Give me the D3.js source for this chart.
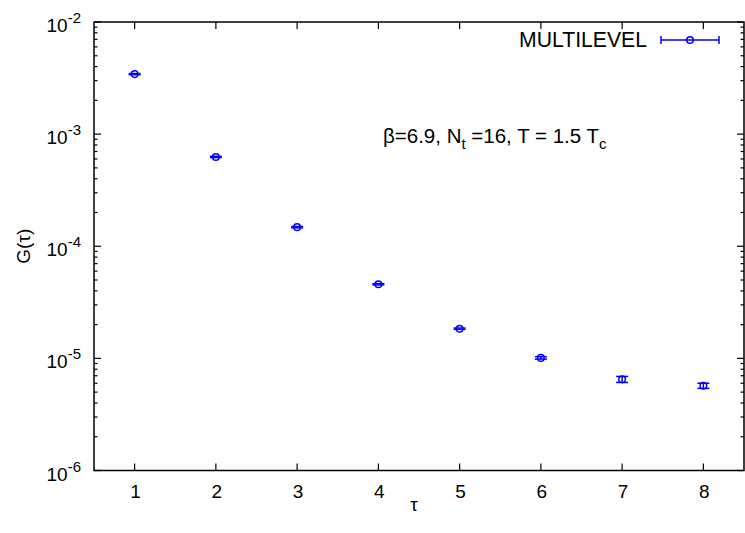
<!DOCTYPE html>
<html><head><meta charset="utf-8">
<script src="https://cdn.jsdelivr.net/npm/d3@7"></script>
<style>body{margin:0;background:#fff}text{font-family:"Liberation Sans",Arial,sans-serif}</style>
</head><body>
<svg id="c" width="745" height="533"></svg>
<script>
const tau = [1,2,3,4,5,6,7,8];
const G = [3.43e-3, 6.26e-4, 1.48e-4, 4.58e-5, 1.84e-5, 1.01e-5, 6.5e-6, 5.7e-6];
const Gerr = [4e-5, 8e-6, 2e-6, 6e-7, 2.5e-7, 2.5e-7, 4e-7, 3e-7];
const xTicks = [1,2,3,4,5,6,7,8];
const yExps = [-2,-3,-4,-5,-6];
const seriesName = "MULTILEVEL";

const svg = d3.select("#c");
const L=94, R=744, T=22, B=470.5;
const x = d3.scaleLinear().domain([0.5,8.5]).range([L,R]);
const y = d3.scaleLog().domain([1e-6,1e-2]).range([B,T]);
const blue = "#0000ff";

// ticks
const g = svg.append("g").attr("stroke","#000").attr("stroke-width",1.2);
xTicks.forEach(t=>{
  g.append("line").attr("x1",x(t)).attr("x2",x(t)).attr("y1",B).attr("y2",B-7);
  g.append("line").attr("x1",x(t)).attr("x2",x(t)).attr("y1",T).attr("y2",T+7);
});
for(let e=-6;e<=-2;e++){
  const v=Math.pow(10,e);
  g.append("line").attr("x1",L).attr("x2",L+7).attr("y1",y(v)).attr("y2",y(v));
  g.append("line").attr("x1",R).attr("x2",R-7).attr("y1",y(v)).attr("y2",y(v));
  if(e<-2) for(let m=2;m<=9;m++){
    const yy=y(m*v);
    g.append("line").attr("x1",L).attr("x2",L+3.5).attr("y1",yy).attr("y2",yy);
    g.append("line").attr("x1",R).attr("x2",R-3.5).attr("y1",yy).attr("y2",yy);
  }
}
svg.append("rect").attr("x",L).attr("y",T).attr("width",R-L).attr("height",B-T)
  .attr("fill","none").attr("stroke","#000").attr("stroke-width",1.5);

// tick labels
xTicks.forEach(t=>{
  svg.append("text").attr("x",x(t)+1).attr("y",498).attr("text-anchor","middle")
    .attr("font-size",19).text(t);
});
yExps.forEach(e=>{
  const t=svg.append("text").attr("x",81).attr("y",y(Math.pow(10,e))+10).attr("text-anchor","end").attr("font-size",19);
  t.append("tspan").text("10");
  t.append("tspan").attr("dy",-9).attr("font-size",15).text(e);
});
// axis titles
svg.append("text").attr("x",x(4.5)-5).attr("y",511).attr("text-anchor","middle").attr("font-size",19).text("τ");
svg.append("text").attr("transform","translate(30,"+((T+B)/2)+") rotate(-90)").attr("text-anchor","middle").attr("font-size",19).text("G(τ)");

// annotation
const a = svg.append("text").attr("x",383).attr("y",143).attr("font-size",20.5);
a.append("tspan").text("β=6.9, N");
a.append("tspan").attr("dy",6).attr("font-size",15).text("t");
a.append("tspan").attr("dy",-6).text(" =16, T = 1.5 T");
a.append("tspan").attr("dy",6).attr("font-size",15).text("c");

// data
const d = svg.append("g").attr("stroke",blue).attr("stroke-width",1.5).attr("fill","none");
tau.forEach((t,i)=>{
  const cx=x(t), lo=y(G[i]-Gerr[i]), hi=y(G[i]+Gerr[i]), cy=y(G[i]);
  d.append("line").attr("x1",cx).attr("x2",cx).attr("y1",lo).attr("y2",hi);
  d.append("line").attr("x1",cx-6).attr("x2",cx+6).attr("y1",lo).attr("y2",lo);
  d.append("line").attr("x1",cx-6).attr("x2",cx+6).attr("y1",hi).attr("y2",hi);
  d.append("circle").attr("cx",cx).attr("cy",cy).attr("r",3.3);
});

// legend
svg.append("text").attr("x",647).attr("y",46.5).attr("text-anchor","end").attr("font-size",21.2).text(seriesName);
const lg = svg.append("g").attr("stroke",blue).attr("stroke-width",1.5).attr("fill","none");
lg.append("line").attr("x1",661).attr("x2",719).attr("y1",40).attr("y2",40);
lg.append("line").attr("x1",661).attr("x2",661).attr("y1",36).attr("y2",44);
lg.append("line").attr("x1",719).attr("x2",719).attr("y1",36).attr("y2",44);
lg.append("circle").attr("cx",690).attr("cy",40).attr("r",3.3);
</script>
</body></html>
